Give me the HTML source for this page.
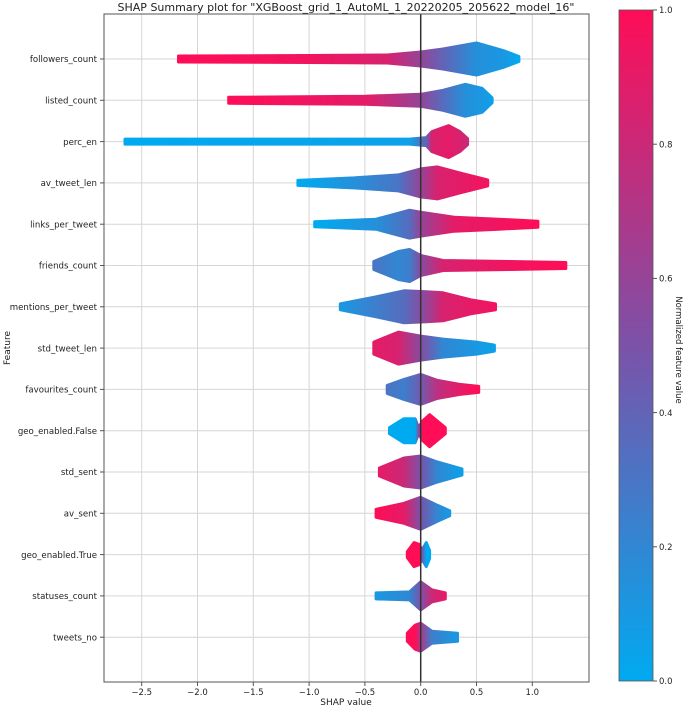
<!DOCTYPE html>
<html><head><meta charset="utf-8"><style>
body{margin:0;background:#fff;font-family:"Liberation Sans","DejaVu Sans",sans-serif;}
svg text{font-family:"DejaVu Sans","Liberation Sans",sans-serif;}
</style></head><body>
<svg id="chart" width="685" height="708" viewBox="0 0 685 708" xmlns="http://www.w3.org/2000/svg">
<defs id="defs">
<linearGradient id="cbar" x1="0" y1="1" x2="0" y2="0">
<stop offset="0" stop-color="#00aaf0"/><stop offset="0.5" stop-color="#7b52a8"/><stop offset="1" stop-color="#ff0d57"/>
</linearGradient>
</defs>
<text x="346" y="11" font-size="11" text-anchor="middle" fill="#222">SHAP Summary plot for "XGBoost_grid_1_AutoML_1_20220205_205622_model_16"</text>
<g id="grid"></g>
<g id="swarm"></g>
<line id="zero" y1="14" y2="682" stroke="#333" stroke-width="1.5"/>
<rect x="104" y="14" width="485" height="668" fill="none" stroke="#555" stroke-width="1"/>
<g id="axes"></g>
<text x="346" y="705" font-size="9" text-anchor="middle" fill="#222">SHAP value</text>
<text x="10" y="348" font-size="9" text-anchor="middle" fill="#222" transform="rotate(-90 10 348)">Feature</text>
<rect x="619" y="10" width="34" height="671" fill="url(#cbar)" stroke="#555" stroke-width="0.8"/>
<g id="cbticks"></g>
<text x="676" y="350" font-size="8.5" text-anchor="middle" fill="#222" transform="rotate(90 676 350)">Normalized feature value</text>
</svg>
<script>
const features=["followers_count","listed_count","perc_en","av_tweet_len","links_per_tweet","friends_count","mentions_per_tweet","std_tweet_len","favourites_count","geo_enabled.False","std_sent","av_sent","geo_enabled.True","statuses_count","tweets_no"];
const xTicks=[-2.5,-2.0,-1.5,-1.0,-0.5,0.0,0.5,1.0];
const xTickLabels=["\u22122.5","\u22122.0","\u22121.5","\u22121.0","\u22120.5","0.0","0.5","1.0"];
const cbTicks=[0,0.2,0.4,0.6,0.8,1.0];
// per feature knots: SHAP value
const knotX=[
[-2.17,-1.0,-0.3,0,0.2,0.5,0.75,0.88],
[-1.72,-0.5,0,0.2,0.4,0.55,0.64],
[-2.65,-0.1,0.05,0.1,0.25,0.35,0.42],
[-1.1,-0.6,-0.2,0,0.15,0.35,0.6],
[-0.95,-0.4,-0.1,0,0.3,0.7,1.05],
[-0.42,-0.2,-0.1,0,0.2,0.8,1.3],
[-0.72,-0.4,-0.15,0.05,0.2,0.45,0.67],
[-0.42,-0.2,0,0.2,0.5,0.66],
[-0.3,-0.15,0,0.15,0.35,0.52],
[-0.28,-0.15,-0.05,-0.02,0.02,0.08,0.22],
[-0.37,-0.15,0,0.15,0.37],
[-0.4,-0.15,0,0.15,0.26],
[-0.12,-0.06,-0.01,0.01,0.05,0.08],
[-0.4,-0.1,0,0.1,0.22],
[-0.12,-0.05,0,0.1,0.33]];
// spread (half-width in px)
const knotSpread=[
[3,3.5,4,7,10,16,8,2.5],
[3,4,6,10,16,12,2.5],
[2.5,2.5,4,10,16,10,3],
[2.5,5,8,14,16,10,3],
[2.5,5,14,12,7,5,3],
[4,14,16,10,5,4,3],
[3,10,16,15,14,7,3],
[6,16,12,9,6,3],
[4,10,15,9,5,3],
[3,12,12,3,10,16,3],
[4,14,16,10,3],
[4,10,16,8,2.5],
[3,12,10,4,12,4],
[3,4,14,6,3],
[4,12,14,6,4]];
// normalized feature value (colour)
const knotColor=[
[1,0.95,0.85,0.6,0.4,0.15,0.1,0],
[1,0.9,0.6,0.35,0.15,0.1,0.05],
[0,0.05,0.4,0.85,0.9,0.85,0.8],
[0,0.15,0.3,0.6,0.85,0.9,0.95],
[0,0.15,0.35,0.6,0.9,0.95,1],
[0.3,0.2,0.25,0.55,0.85,0.95,1],
[0.1,0.25,0.35,0.6,0.85,0.9,0.95],
[0.9,0.85,0.55,0.2,0.1,0.05],
[0.3,0.25,0.45,0.75,0.9,1],
[0,0,0,0.5,1,1,1],
[0.9,0.8,0.5,0.2,0.05],
[1,0.9,0.5,0.2,0.1],
[1,1,1,0.5,0,0],
[0.1,0.2,0.5,0.8,0.9],
[1,1,0.7,0.25,0.1]];

const NS="http://www.w3.org/2000/svg";
const X0=104,X1=589,Y0=14,Y1=682;
function xs(v){return 420.7+v*111.6;}
function ys(i){return 59+i*41.3;}
function cbY(v){return 681-v*671;}
function col(t){
  const a=[0,170,240],m=[123,82,168],b=[255,13,87];
  let p,q,u; if(t<0.5){p=a;q=m;u=t/0.5;}else{p=m;q=b;u=(t-0.5)/0.5;}
  return "rgb("+p.map((c,k)=>Math.round(c+(q[k]-c)*u)).join(",")+")";
}
function mk(tag,attrs,parent){const e=document.createElementNS(NS,tag);for(const k in attrs)e.setAttribute(k,attrs[k]);parent.appendChild(e);return e;}
const grid=document.getElementById("grid"),axes=document.getElementById("axes"),sw=document.getElementById("swarm"),defs=document.getElementById("defs");
xTicks.forEach((v,i)=>{
  const l=mk("line",{x1:xs(v),x2:xs(v),y1:Y0,y2:Y1,stroke:"#d6d6d6","stroke-width":1},grid);
  
  
  const t=mk("line",{x1:xs(v),x2:xs(v),y1:Y1,y2:Y1+4,stroke:"#555"},axes);
  
  
  const tx=mk("text",{x:xs(v),y:Y1+13,"font-size":8.5,"text-anchor":"middle",fill:"#222"},axes);
  tx.textContent=xTickLabels[i];
  
  
});
document.getElementById("zero").setAttribute("x1",xs(0));
document.getElementById("zero").setAttribute("x2",xs(0));
features.forEach((f,i)=>{
  const y=ys(i);
  const g=mk("line",{x1:X0,x2:X1,y1:y,y2:y,stroke:"#d6d6d6","stroke-width":1},grid);
  
  
  const t=mk("line",{x1:X0-4,x2:X0,y1:y,y2:y,stroke:"#555"},axes);
  
  
  const tx=mk("text",{x:X0-7,y:y+3.2,"font-size":8.6,"text-anchor":"end",fill:"#222"},axes);
  tx.textContent=f;
  
  
  const kx=knotX[i],ks=knotSpread[i],kc=knotColor[i];
  const xa=xs(kx[0]),xb=xs(kx[kx.length-1]);
  const gr=mk("linearGradient",{id:"g"+i,gradientUnits:"userSpaceOnUse",x1:xa,x2:xb,y1:0,y2:0},defs);
  kx.forEach((v,k)=>{mk("stop",{offset:((xs(v)-xa)/(xb-xa)).toFixed(4),"stop-color":col(kc[k])},gr);});
  let top="",bot="";
  kx.forEach((v,k)=>{top+=(k?"L":"M")+xs(v).toFixed(1)+","+(y-ks[k]).toFixed(1);});
  for(let k=kx.length-1;k>=0;k--){bot+="L"+xs(kx[k]).toFixed(1)+","+(y+ks[k]).toFixed(1);}
  const p=mk("path",{d:top+bot+"Z",fill:"url(#g"+i+")",stroke:"url(#g"+i+")","stroke-width":3,"stroke-linejoin":"round"},sw);
  
  
});
const cb=document.getElementById("cbticks");
cbTicks.forEach(v=>{
  const t=mk("line",{x1:653,x2:657,y1:cbY(v),y2:cbY(v),stroke:"#555"},cb);
  
  
  const tx=mk("text",{x:659,y:cbY(v)+3.2,"font-size":8.5,fill:"#222"},cb);
  tx.textContent=v.toFixed(1);
  
  
});
</script>
</body></html>
